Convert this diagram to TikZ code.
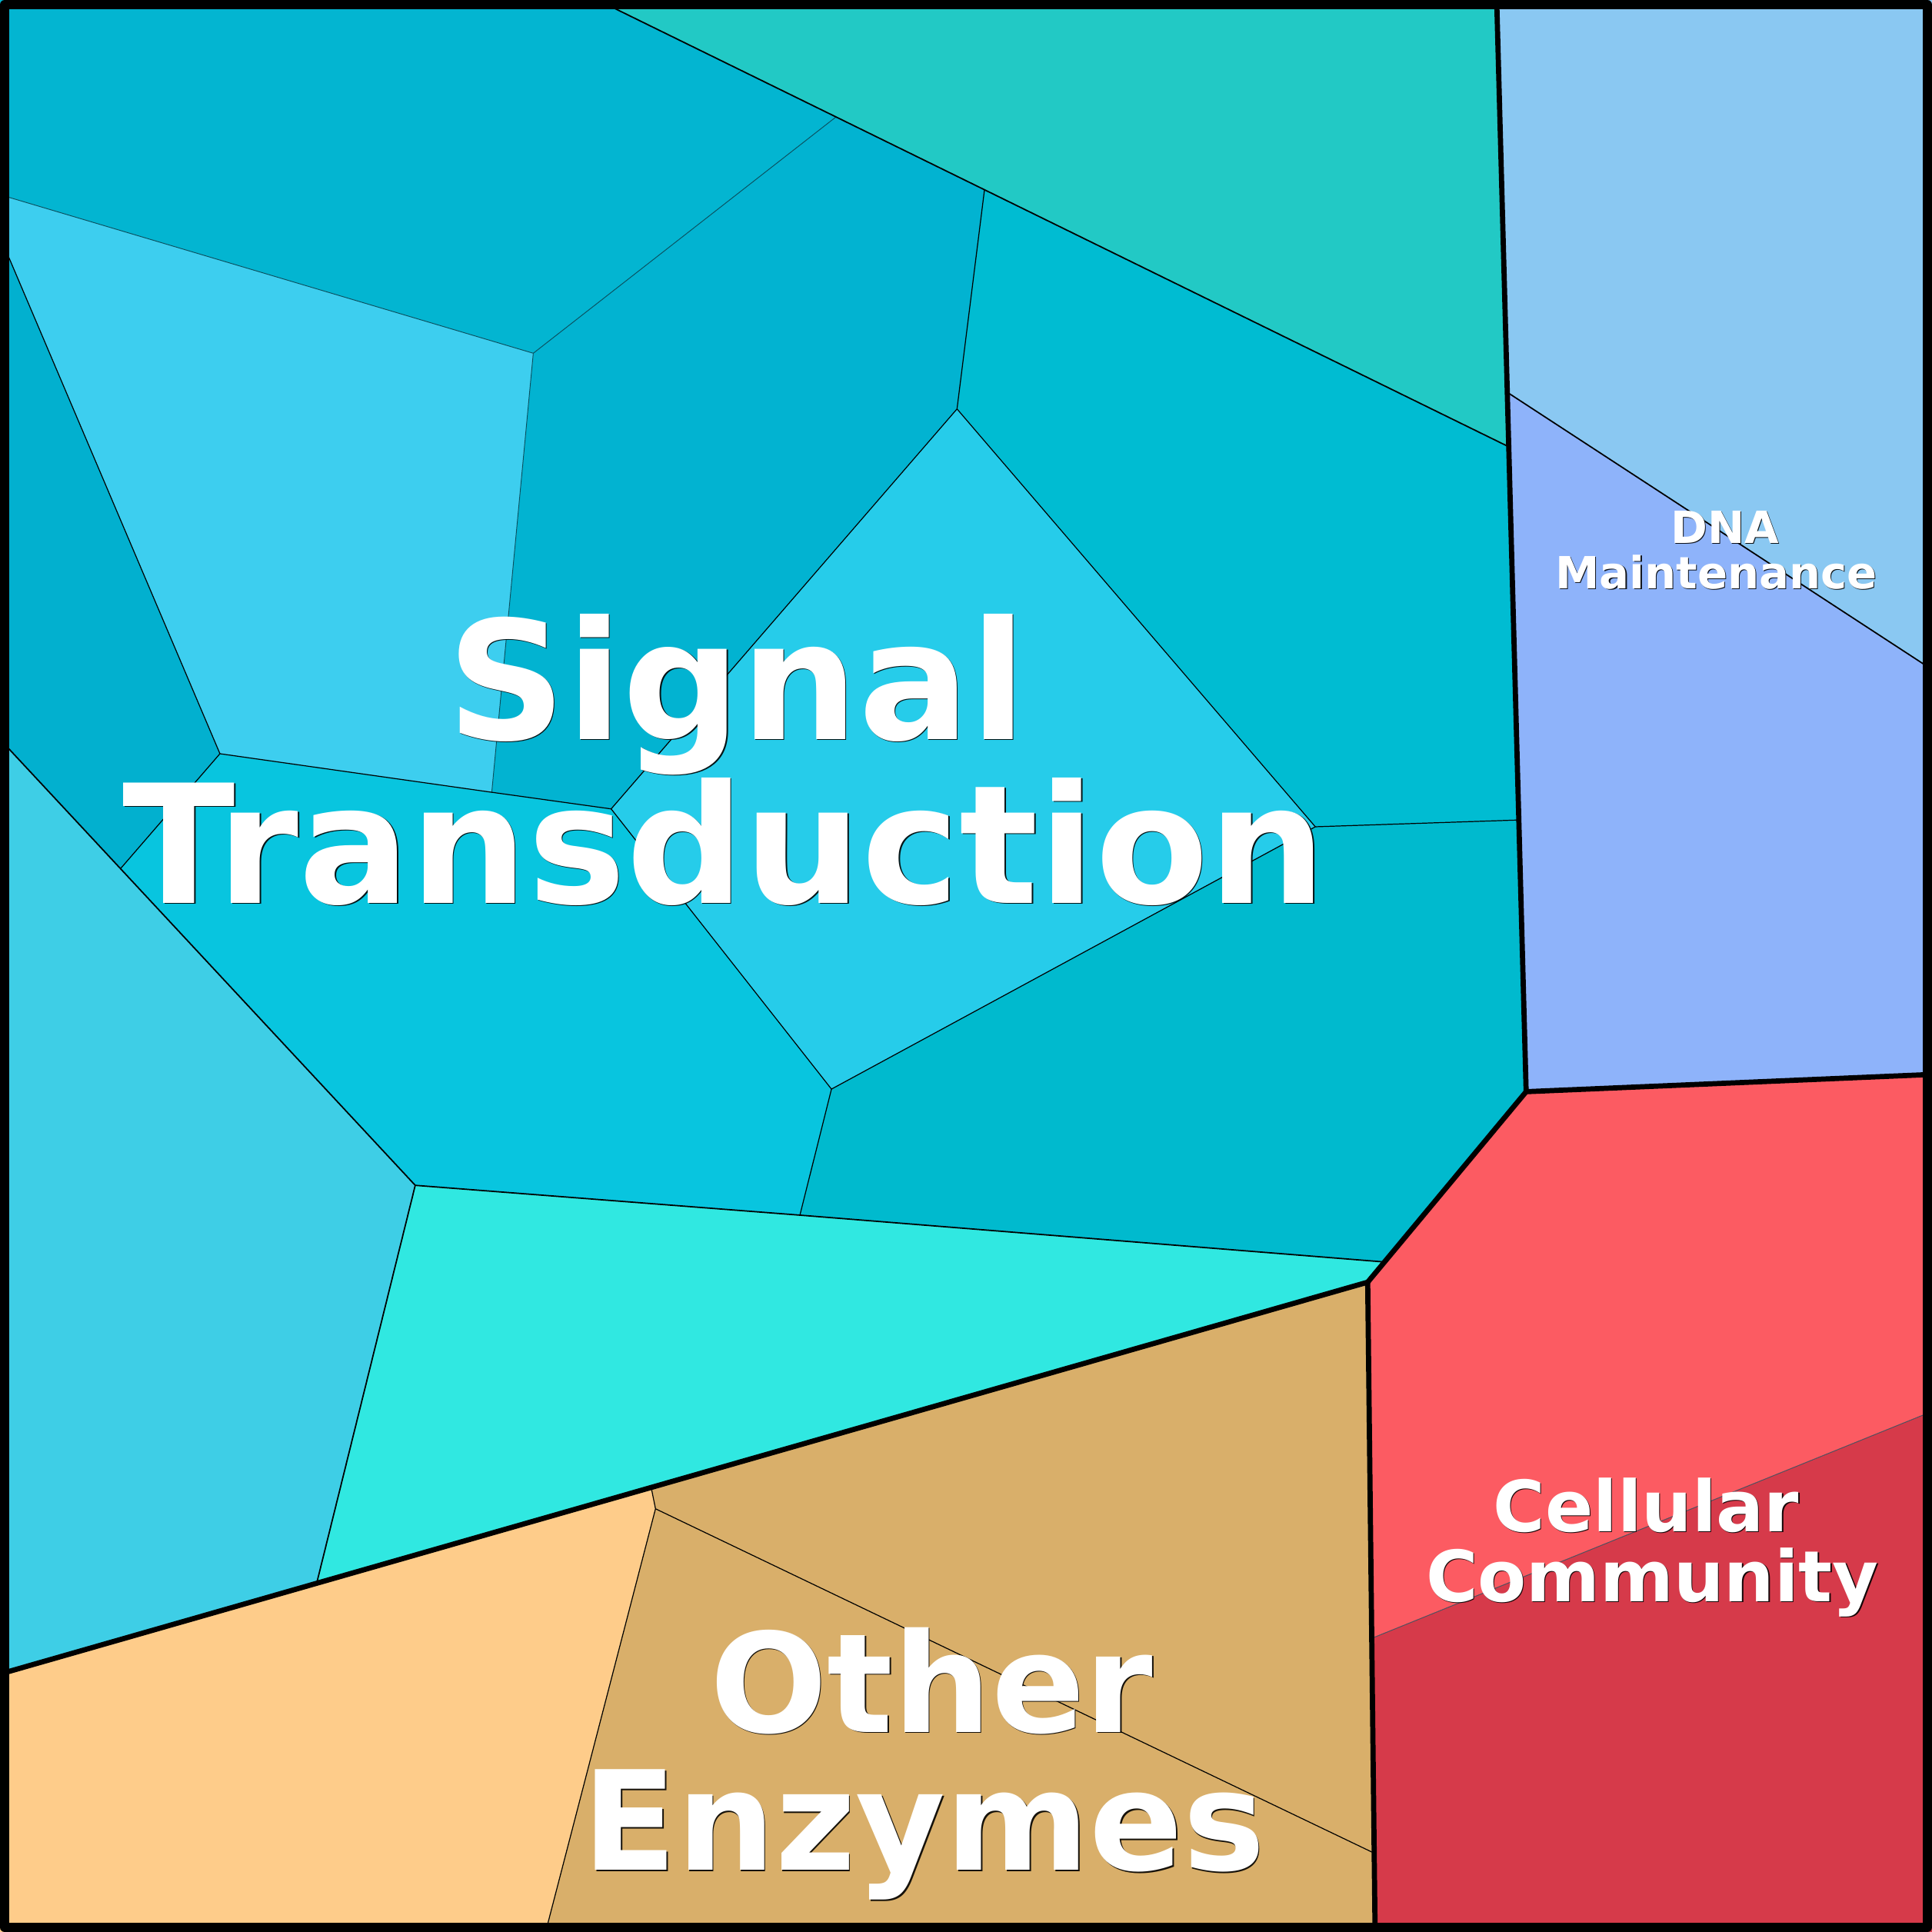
\documentclass[tikz,border=0pt]{standalone}
\usepackage{fontspec}
\newfontfamily\djv{DejaVu Sans}
\definecolor{cA}{RGB}{3,181,209}
\definecolor{cB}{RGB}{34,201,197}
\definecolor{cC}{RGB}{2,179,209}
\definecolor{cD}{RGB}{61,206,239}
\definecolor{cE}{RGB}{2,176,207}
\definecolor{cF}{RGB}{0,188,210}
\definecolor{cG}{RGB}{38,204,234}
\definecolor{cH}{RGB}{8,197,223}
\definecolor{cI}{RGB}{0,186,206}
\definecolor{cJ}{RGB}{48,232,225}
\definecolor{cK}{RGB}{62,206,230}
\definecolor{dnaA}{RGB}{138,200,242}
\definecolor{dnaB}{RGB}{142,179,250}
\definecolor{celA}{RGB}{252,91,98}
\definecolor{celB}{RGB}{214,58,74}
\definecolor{othA}{RGB}{254,204,138}
\definecolor{othB}{RGB}{217,175,106}
\definecolor{fline}{RGB}{10,80,95}
\tikzset{
  thickb/.style={draw=black,line width=2.1pt,line join=round,line cap=round},
  medb/.style={draw=black,line width=0.55pt,line join=round},
  thinb/.style={draw=black,line width=0.38pt,line join=round},
  faintb/.style={draw=fline,line width=0.3pt},
  lblw/.style={text=white,inner sep=0pt,anchor=base},
  lbls/.style={text=black,inner sep=0pt,anchor=base,text opacity=0.9},
  fbig/.style={font=\djv\bfseries\fontsize{67}{67}\selectfont},
  fmid/.style={font=\djv\bfseries\fontsize{56}{56}\selectfont},
  fcel/.style={font=\djv\bfseries\fontsize{28.7}{28.7}\selectfont},
  fdna/.style={font=\djv\bfseries\fontsize{18}{18}\selectfont},
}
\begin{document}
\begin{tikzpicture}[x=0.5pt,y=-0.5pt]
\useasboundingbox (0,0) rectangle (1568,1568);
% frame corners
\coordinate (TL) at (0,0);
\coordinate (TR) at (1568,0);
\coordinate (BR) at (1568,1568);
\coordinate (BL) at (0,1568);
% top-level vertices
\coordinate (V1) at (1214.7,0);
\coordinate (V2) at (1238.6,886);
\coordinate (V3) at (1110,1040.6);
\coordinate (V4) at (0,1358.6);
\coordinate (V5) at (1116,1568);
\coordinate (RE) at (1568,872);
% signal transduction vertices
\coordinate (A) at (484.9,0);
\coordinate (B) at (678.5,94.9);
\coordinate (C) at (799,154);
\coordinate (D) at (1224.5,362.6);
\coordinate (E) at (0,158);
\coordinate (F) at (432.8,286.7);
\coordinate (G) at (0,192);
\coordinate (H) at (178.5,611.7);
\coordinate (I) at (399.1,643);
\coordinate (J) at (496,656.5);
\coordinate (K) at (776.7,331.9);
\coordinate (L) at (1067.5,671);
\coordinate (Lr) at (1232.7,665.5);
\coordinate (M) at (674.8,883.9);
\coordinate (N) at (649.2,986.2);
\coordinate (O) at (337,962);
\coordinate (P) at (0,600);
\coordinate (Q) at (97.8,705);
\coordinate (R) at (1123.6,1024.2);
\coordinate (S) at (257,1285);
% DNA
\coordinate (Dl) at (1223.3,318.4);
\coordinate (Dr) at (1568,543.4);
% cellular
\coordinate (Cl) at (1113.3,1329.6);
\coordinate (Cr) at (1568,1145.5);
% other enzymes
\coordinate (W1) at (528.5,1207.2);
\coordinate (W2) at (532,1224.5);
\coordinate (W3) at (442.8,1568);
\coordinate (W4) at (1115.3,1504);

% fills
\fill[cA] (TL) -- (A) -- (B) -- (F) -- (E) -- cycle;
\fill[cB] (A) -- (V1) -- (D) -- (C) -- (B) -- cycle;
\fill[cC] (B) -- (C) -- (K) -- (J) -- (I) -- (F) -- cycle;
\fill[cD] (E) -- (F) -- (I) -- (H) -- (G) -- cycle;
\fill[cE] (G) -- (H) -- (Q) -- (P) -- cycle;
\fill[cF] (C) -- (D) -- (Lr) -- (L) -- (K) -- cycle;
\fill[cG] (K) -- (L) -- (M) -- (J) -- cycle;
\fill[cH] (H) -- (I) -- (J) -- (M) -- (N) -- (O) -- (Q) -- cycle;
\fill[cI] (L) -- (Lr) -- (V2) -- (R) -- (N) -- (M) -- cycle;
\fill[cJ] (O) -- (N) -- (R) -- (V3) -- (S) -- cycle;
\fill[cK] (P) -- (Q) -- (O) -- (S) -- (V4) -- cycle;
\fill[dnaA] (V1) -- (TR) -- (Dr) -- (Dl) -- cycle;
\fill[dnaB] (Dl) -- (Dr) -- (RE) -- (V2) -- cycle;
\fill[celA] (V2) -- (RE) -- (Cr) -- (Cl) -- (V3) -- cycle;
\fill[celB] (Cl) -- (Cr) -- (BR) -- (V5) -- cycle;
\fill[othA] (V4) -- (W1) -- (W2) -- (W3) -- (BL) -- cycle;
\fill[othB] (W1) -- (V3) -- (W4) -- (W2) -- cycle;
\fill[othB] (W2) -- (W4) -- (V5) -- (W3) -- cycle;

% faint level-3 lines
\draw[faintb] (E) -- (F) -- (B);
\draw[faintb] (F) -- (I);
\draw[faintb, draw opacity=0.7] (Cl) -- (Cr);
% thin lines
\draw[thinb] (G) -- (H) -- (Q);
\draw[thinb] (H) -- (I) -- (J) -- (K) -- (C);
\draw[thinb] (K) -- (L) -- (Lr);
\draw[thinb] (L) -- (M) -- (J);
\draw[thinb] (M) -- (N);
\draw[thinb] (W1) -- (W2) -- (W3);
\draw[thinb] (W2) -- (W4);
% medium lines
\draw[medb] (A) -- (B) -- (C) -- (D);
\draw[medb] (P) -- (Q) -- (O) -- (N) -- (R);
\draw[medb] (O) -- (S);
\draw[medb] (Dl) -- (Dr);
% thick group borders
\draw[thickb] (V1) -- (V2) -- (RE);
\draw[thickb] (V2) -- (V3) -- (V4);
\draw[thickb] (V3) -- (V5);
% outer frame
\draw[line width=3.75pt,line join=round] (3.75,3.75) rectangle (1564.25,1564.25);

% labels: shadows
\node[lbls,fbig] (s1s) at (598.9,600.9) {Signal};
\node[lbls,fbig] (s2s) at (588.9,733.9) {Transduction};
\node[lbls,fmid] (o1s) at (756.9,1406.9) {Other};
\node[lbls,fmid] (o2s) at (750.9,1518.9) {Enzymes};
\node[lbls,fcel] (c1s) at (1336.8,1243.8) {Cellular};
\node[lbls,fcel] (c2s) at (1341.8,1300.8) {Community};
\node[lbls,fdna] (d1s) at (1400.7,441.7) {DNA};
\node[lbls,fdna] (d2s) at (1393.7,478.7) {Maintenance};
% labels
\node[lblw,fbig] (s1) at (598,600) {Signal};
\node[lblw,fbig] (s2) at (588,733) {Transduction};
\node[lblw,fmid] (o1) at (756,1406) {Other};
\node[lblw,fmid] (o2) at (750,1518) {Enzymes};
\node[lblw,fcel] (c1) at (1336,1243) {Cellular};
\node[lblw,fcel] (c2) at (1341,1300) {Community};
\node[lblw,fdna] (d1) at (1400,441) {DNA};
\node[lblw,fdna] (d2) at (1393,478) {Maintenance};
\end{tikzpicture}
\end{document}
